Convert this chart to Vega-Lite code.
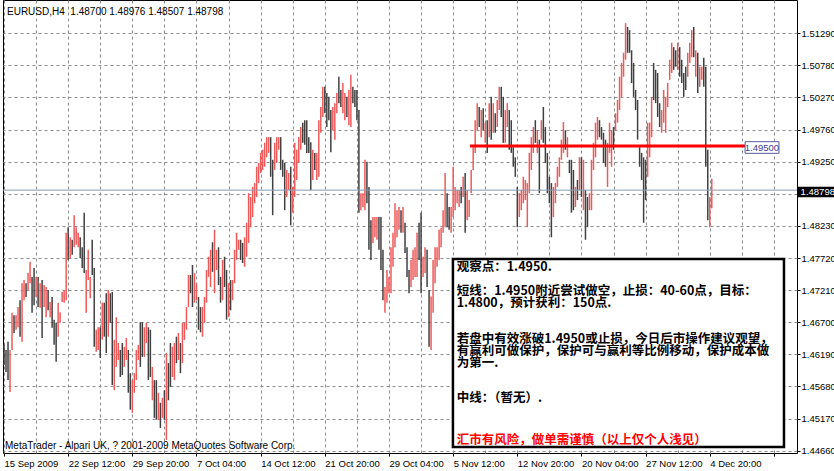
{
  "$schema": "https://vega.github.io/schema/vega-lite/v6.json",
  "width": 794,
  "height": 453,
  "autosize": "none",
  "padding": {"left": 3, "top": 0, "right": 37, "bottom": 18},
  "background": "white",
  "view": {"stroke": "black", "strokeWidth": 1, "fill": "white"},
  "config": {"font": "Liberation Sans"},
  "datasets": {
    "bars": [
      {"i":0,"h":1.4634,"l":1.4602,"u":0},{"i":1,"h":1.4626,"l":1.4591,"u":0},{"i":2,"h":1.4639,"l":1.4578,"u":0},{"i":3,"h":1.4626,"l":1.4559,"u":1},{"i":4,"h":1.4685,"l":1.4626,"u":1},{"i":5,"h":1.4681,"l":1.4653,"u":0},{"i":6,"h":1.4681,"l":1.4658,"u":1},{"i":7,"h":1.4694,"l":1.4662,"u":1},{"i":8,"h":1.4705,"l":1.4647,"u":0},{"i":9,"h":1.4732,"l":1.4639,"u":1},
      {"i":10,"h":1.4737,"l":1.4705,"u":1},{"i":11,"h":1.4732,"l":1.4710,"u":0},{"i":12,"h":1.4748,"l":1.4721,"u":1},{"i":13,"h":1.4766,"l":1.4732,"u":1},{"i":14,"h":1.4742,"l":1.4685,"u":0},{"i":15,"h":1.4756,"l":1.4697,"u":0},{"i":16,"h":1.4742,"l":1.4710,"u":1},{"i":17,"h":1.4742,"l":1.4694,"u":0},{"i":18,"h":1.4732,"l":1.4693,"u":1},{"i":19,"h":1.4737,"l":1.4645,"u":0},
      {"i":20,"h":1.4729,"l":1.4694,"u":1},{"i":21,"h":1.4726,"l":1.4678,"u":1},{"i":22,"h":1.4721,"l":1.4689,"u":0},{"i":23,"h":1.4702,"l":1.4678,"u":1},{"i":24,"h":1.4710,"l":1.4661,"u":0},{"i":25,"h":1.4674,"l":1.4634,"u":0},{"i":26,"h":1.4669,"l":1.4607,"u":0},{"i":27,"h":1.4701,"l":1.4647,"u":1},{"i":28,"h":1.4686,"l":1.4669,"u":1},{"i":29,"h":1.4718,"l":1.4702,"u":1},
      {"i":30,"h":1.4721,"l":1.4701,"u":1},{"i":31,"h":1.4812,"l":1.4705,"u":1},{"i":32,"h":1.4821,"l":1.4769,"u":0},{"i":33,"h":1.4805,"l":1.4772,"u":1},{"i":34,"h":1.4801,"l":1.4777,"u":0},{"i":35,"h":1.4840,"l":1.4789,"u":1},{"i":36,"h":1.4821,"l":1.4793,"u":1},{"i":37,"h":1.4812,"l":1.4789,"u":1},{"i":38,"h":1.4805,"l":1.4772,"u":0},{"i":39,"h":1.4789,"l":1.4756,"u":0},
      {"i":40,"h":1.4844,"l":1.4748,"u":0},{"i":41,"h":1.4753,"l":1.4685,"u":1},{"i":42,"h":1.4785,"l":1.4737,"u":1},{"i":43,"h":1.4742,"l":1.4708,"u":1},{"i":44,"h":1.4801,"l":1.4745,"u":0},{"i":45,"h":1.4756,"l":1.4631,"u":0},{"i":46,"h":1.4658,"l":1.4623,"u":1},{"i":47,"h":1.4662,"l":1.4626,"u":1},{"i":48,"h":1.4662,"l":1.4613,"u":0},{"i":49,"h":1.4701,"l":1.4642,"u":1},
      {"i":50,"h":1.4701,"l":1.4647,"u":0},{"i":51,"h":1.4716,"l":1.4621,"u":0},{"i":52,"h":1.4721,"l":1.4647,"u":1},{"i":53,"h":1.4716,"l":1.4669,"u":0},{"i":54,"h":1.4718,"l":1.4570,"u":0},{"i":55,"h":1.4642,"l":1.4562,"u":1},{"i":56,"h":1.4678,"l":1.4599,"u":1},{"i":57,"h":1.4637,"l":1.4610,"u":1},{"i":58,"h":1.4626,"l":1.4583,"u":0},{"i":59,"h":1.4637,"l":1.4586,"u":0},
      {"i":60,"h":1.4631,"l":1.4599,"u":1},{"i":61,"h":1.4645,"l":1.4610,"u":1},{"i":62,"h":1.4626,"l":1.4558,"u":0},{"i":63,"h":1.4589,"l":1.4531,"u":0},{"i":64,"h":1.4578,"l":1.4526,"u":1},{"i":65,"h":1.4589,"l":1.4558,"u":1},{"i":66,"h":1.4626,"l":1.4578,"u":1},{"i":67,"h":1.4634,"l":1.4610,"u":1},{"i":68,"h":1.4670,"l":1.4599,"u":0},{"i":69,"h":1.4670,"l":1.4615,"u":0},
      {"i":70,"h":1.4662,"l":1.4615,"u":1},{"i":71,"h":1.4669,"l":1.4637,"u":1},{"i":72,"h":1.4662,"l":1.4578,"u":0},{"i":73,"h":1.4658,"l":1.4583,"u":0},{"i":74,"h":1.4599,"l":1.4546,"u":1},{"i":75,"h":1.4578,"l":1.4518,"u":0},{"i":76,"h":1.4578,"l":1.4515,"u":0},{"i":77,"h":1.4558,"l":1.4515,"u":1},{"i":78,"h":1.4542,"l":1.4502,"u":0},{"i":79,"h":1.4550,"l":1.4518,"u":1},
      {"i":80,"h":1.4562,"l":1.4515,"u":0},{"i":81,"h":1.4621,"l":1.4483,"u":1},{"i":82,"h":1.4605,"l":1.4546,"u":0},{"i":83,"h":1.4637,"l":1.4567,"u":0},{"i":84,"h":1.4631,"l":1.4583,"u":1},{"i":85,"h":1.4637,"l":1.4578,"u":1},{"i":86,"h":1.4647,"l":1.4605,"u":0},{"i":87,"h":1.4653,"l":1.4610,"u":1},{"i":88,"h":1.4637,"l":1.4589,"u":0},{"i":89,"h":1.4669,"l":1.4605,"u":1},
      {"i":90,"h":1.4669,"l":1.4642,"u":1},{"i":91,"h":1.4694,"l":1.4658,"u":1},{"i":92,"h":1.4745,"l":1.4694,"u":1},{"i":93,"h":1.4745,"l":1.4716,"u":0},{"i":94,"h":1.4761,"l":1.4694,"u":0},{"i":95,"h":1.4748,"l":1.4701,"u":1},{"i":96,"h":1.4732,"l":1.4705,"u":1},
      {"i":97,"h":1.4710,"l":1.4658,"u":0},{"i":98,"h":1.4694,"l":1.4654,"u":0},{"i":99,"h":1.4694,"l":1.4647,"u":1},
      {"i":100,"h":1.4710,"l":1.4669,"u":1},{"i":101,"h":1.4753,"l":1.4701,"u":1},{"i":102,"h":1.4774,"l":1.4742,"u":1},{"i":103,"h":1.4785,"l":1.4726,"u":1},{"i":104,"h":1.4797,"l":1.4750,"u":0},{"i":105,"h":1.4817,"l":1.4716,"u":1},{"i":106,"h":1.4785,"l":1.4753,"u":1},{"i":107,"h":1.4789,"l":1.4729,"u":0},{"i":108,"h":1.4742,"l":1.4701,"u":0},{"i":109,"h":1.4769,"l":1.4705,"u":1},
      {"i":110,"h":1.4774,"l":1.4726,"u":0},{"i":111,"h":1.4753,"l":1.4674,"u":0},{"i":112,"h":1.4732,"l":1.4678,"u":1},{"i":113,"h":1.4737,"l":1.4689,"u":0},{"i":114,"h":1.4737,"l":1.4705,"u":1},{"i":115,"h":1.4785,"l":1.4732,"u":1},{"i":116,"h":1.4812,"l":1.4769,"u":1},{"i":117,"h":1.4801,"l":1.4785,"u":1},{"i":118,"h":1.4801,"l":1.4769,"u":0},{"i":119,"h":1.4796,"l":1.4764,"u":0},
      {"i":120,"h":1.4805,"l":1.4758,"u":1},{"i":121,"h":1.4828,"l":1.4774,"u":1},{"i":122,"h":1.4875,"l":1.4796,"u":1},{"i":123,"h":1.4869,"l":1.4821,"u":1},{"i":124,"h":1.4885,"l":1.4837,"u":1},{"i":125,"h":1.4891,"l":1.4859,"u":1},{"i":126,"h":1.4917,"l":1.4869,"u":1},{"i":127,"h":1.4923,"l":1.4891,"u":1},{"i":128,"h":1.4939,"l":1.4907,"u":1},{"i":129,"h":1.4944,"l":1.4912,"u":1},
      {"i":130,"h":1.4955,"l":1.4917,"u":1},{"i":131,"h":1.4964,"l":1.4932,"u":1},{"i":132,"h":1.4964,"l":1.4939,"u":1},{"i":133,"h":1.4964,"l":1.4901,"u":0},{"i":134,"h":1.4928,"l":1.4840,"u":0},{"i":135,"h":1.4955,"l":1.4912,"u":1},{"i":136,"h":1.4964,"l":1.4923,"u":1},{"i":137,"h":1.4964,"l":1.4944,"u":1},{"i":138,"h":1.4964,"l":1.4912,"u":0},{"i":139,"h":1.4928,"l":1.4901,"u":0},
      {"i":140,"h":1.4923,"l":1.4848,"u":0},{"i":141,"h":1.4912,"l":1.4869,"u":1},{"i":142,"h":1.4907,"l":1.4880,"u":1},{"i":143,"h":1.4917,"l":1.4824,"u":0},{"i":144,"h":1.4885,"l":1.4844,"u":1},{"i":145,"h":1.4955,"l":1.4869,"u":1},{"i":146,"h":1.4944,"l":1.4896,"u":1},{"i":147,"h":1.4964,"l":1.4923,"u":1},{"i":148,"h":1.4980,"l":1.4944,"u":1},{"i":149,"h":1.4987,"l":1.4955,"u":0},
      {"i":150,"h":1.4991,"l":1.4952,"u":0},{"i":151,"h":1.4991,"l":1.4939,"u":0},{"i":152,"h":1.4964,"l":1.4939,"u":0},{"i":153,"h":1.4956,"l":1.4880,"u":0},{"i":154,"h":1.4944,"l":1.4896,"u":1},{"i":155,"h":1.4939,"l":1.4912,"u":0},{"i":156,"h":1.4939,"l":1.4896,"u":1},{"i":157,"h":1.4991,"l":1.4901,"u":1},{"i":158,"h":1.5012,"l":1.4971,"u":1},{"i":159,"h":1.5044,"l":1.4996,"u":1},
      {"i":160,"h":1.5044,"l":1.5002,"u":0},{"i":161,"h":1.5034,"l":1.4980,"u":0},{"i":162,"h":1.5028,"l":1.4991,"u":0},{"i":163,"h":1.5007,"l":1.4940,"u":0},{"i":164,"h":1.5012,"l":1.4975,"u":1},{"i":165,"h":1.5018,"l":1.4960,"u":1},{"i":166,"h":1.5034,"l":1.5002,"u":1},{"i":167,"h":1.5060,"l":1.5018,"u":0},{"i":168,"h":1.5039,"l":1.5012,"u":0},{"i":169,"h":1.5050,"l":1.5002,"u":1},
      {"i":170,"h":1.5034,"l":1.4991,"u":1},{"i":171,"h":1.5028,"l":1.4996,"u":0},{"i":172,"h":1.5039,"l":1.4983,"u":1},{"i":173,"h":1.5063,"l":1.4980,"u":1},{"i":174,"h":1.5044,"l":1.5018,"u":0},{"i":175,"h":1.5039,"l":1.5012,"u":0},{"i":176,"h":1.5039,"l":1.4991,"u":0},{"i":177,"h":1.5007,"l":1.4844,"u":0},{"i":178,"h":1.4875,"l":1.4848,"u":1},{"i":179,"h":1.4875,"l":1.4853,"u":1},
      {"i":180,"h":1.4928,"l":1.4848,"u":1},{"i":181,"h":1.4925,"l":1.4859,"u":0},{"i":182,"h":1.4885,"l":1.4785,"u":0},{"i":183,"h":1.4832,"l":1.4769,"u":0},{"i":184,"h":1.4837,"l":1.4796,"u":1},{"i":185,"h":1.4837,"l":1.4805,"u":1},{"i":186,"h":1.4837,"l":1.4801,"u":1},{"i":187,"h":1.4837,"l":1.4785,"u":0},
      {"i":188,"h":1.4837,"l":1.4753,"u":0},{"i":189,"h":1.4785,"l":1.4705,"u":0},
      {"i":190,"h":1.4726,"l":1.4685,"u":1},{"i":191,"h":1.4753,"l":1.4701,"u":1},{"i":192,"h":1.4742,"l":1.4716,"u":1},{"i":193,"h":1.4789,"l":1.4716,"u":1},{"i":194,"h":1.4812,"l":1.4758,"u":1},{"i":195,"h":1.4859,"l":1.4789,"u":1},{"i":196,"h":1.4848,"l":1.4805,"u":1},{"i":197,"h":1.4853,"l":1.4817,"u":1},{"i":198,"h":1.4848,"l":1.4812,"u":0},{"i":199,"h":1.4853,"l":1.4812,"u":1},
      {"i":200,"h":1.4828,"l":1.4780,"u":0},{"i":201,"h":1.4789,"l":1.4742,"u":0},{"i":202,"h":1.4753,"l":1.4716,"u":0},{"i":203,"h":1.4769,"l":1.4726,"u":1},{"i":204,"h":1.4785,"l":1.4737,"u":1},{"i":205,"h":1.4789,"l":1.4742,"u":1},{"i":206,"h":1.4812,"l":1.4742,"u":1},{"i":207,"h":1.4828,"l":1.4769,"u":0},{"i":208,"h":1.4844,"l":1.4716,"u":0},{"i":209,"h":1.4774,"l":1.4742,"u":1},
      {"i":210,"h":1.4789,"l":1.4748,"u":1},{"i":211,"h":1.4785,"l":1.4726,"u":0},{"i":212,"h":1.4721,"l":1.4631,"u":0},{"i":213,"h":1.4711,"l":1.4626,"u":1},{"i":214,"h":1.4769,"l":1.4685,"u":1},{"i":215,"h":1.4789,"l":1.4732,"u":1},{"i":216,"h":1.4789,"l":1.4758,"u":1},{"i":217,"h":1.4817,"l":1.4769,"u":1},{"i":218,"h":1.4820,"l":1.4789,"u":1},{"i":219,"h":1.4848,"l":1.4812,"u":1},
      {"i":220,"h":1.4907,"l":1.4821,"u":1},{"i":221,"h":1.4875,"l":1.4821,"u":0},{"i":222,"h":1.4853,"l":1.4817,"u":0},{"i":223,"h":1.4853,"l":1.4812,"u":1},{"i":224,"h":1.4917,"l":1.4837,"u":1},{"i":225,"h":1.4885,"l":1.4848,"u":1},{"i":226,"h":1.4880,"l":1.4859,"u":1},{"i":227,"h":1.4880,"l":1.4853,"u":1},{"i":228,"h":1.4885,"l":1.4859,"u":0},{"i":229,"h":1.4901,"l":1.4869,"u":1},
      {"i":230,"h":1.4907,"l":1.4812,"u":0},{"i":231,"h":1.4880,"l":1.4832,"u":1},{"i":232,"h":1.4864,"l":1.4837,"u":1},{"i":233,"h":1.4912,"l":1.4875,"u":1},{"i":234,"h":1.4948,"l":1.4912,"u":1},{"i":235,"h":1.4991,"l":1.4939,"u":1},{"i":236,"h":1.5018,"l":1.4975,"u":1},{"i":237,"h":1.5012,"l":1.4980,"u":0},{"i":238,"h":1.5007,"l":1.4964,"u":1},{"i":239,"h":1.5010,"l":1.4975,"u":0},
      {"i":240,"h":1.4987,"l":1.4955,"u":1},{"i":241,"h":1.4991,"l":1.4939,"u":0},{"i":242,"h":1.5018,"l":1.4964,"u":1},{"i":243,"h":1.5028,"l":1.4960,"u":0},{"i":244,"h":1.5018,"l":1.4971,"u":1},{"i":245,"h":1.5002,"l":1.4971,"u":0},{"i":246,"h":1.5023,"l":1.4980,"u":1},{"i":247,"h":1.5044,"l":1.5007,"u":1},{"i":248,"h":1.5044,"l":1.4996,"u":0},{"i":249,"h":1.5028,"l":1.4955,"u":0},
      {"i":250,"h":1.5007,"l":1.4955,"u":1},{"i":251,"h":1.5018,"l":1.4980,"u":1},{"i":252,"h":1.5007,"l":1.4944,"u":0},{"i":253,"h":1.4991,"l":1.4939,"u":0},{"i":254,"h":1.4948,"l":1.4917,"u":0},{"i":255,"h":1.4932,"l":1.4901,"u":0},{"i":256,"h":1.4885,"l":1.4821,"u":0},{"i":257,"h":1.4875,"l":1.4837,"u":1},{"i":258,"h":1.4880,"l":1.4848,"u":1},{"i":259,"h":1.4901,"l":1.4859,"u":1},
      {"i":260,"h":1.4896,"l":1.4864,"u":1},{"i":261,"h":1.4891,"l":1.4821,"u":1},{"i":262,"h":1.4939,"l":1.4875,"u":1},{"i":263,"h":1.4964,"l":1.4912,"u":1},{"i":264,"h":1.4980,"l":1.4939,"u":1},{"i":265,"h":1.4991,"l":1.4955,"u":0},{"i":266,"h":1.4975,"l":1.4939,"u":1},{"i":267,"h":1.4960,"l":1.4875,"u":0},{"i":268,"h":1.4991,"l":1.4960,"u":1},{"i":269,"h":1.5012,"l":1.4955,"u":0},
      {"i":270,"h":1.4980,"l":1.4923,"u":0},{"i":271,"h":1.4939,"l":1.4875,"u":0},{"i":272,"h":1.4901,"l":1.4859,"u":0},{"i":273,"h":1.4891,"l":1.4805,"u":0},{"i":274,"h":1.4885,"l":1.4837,"u":1},{"i":275,"h":1.4891,"l":1.4859,"u":1},{"i":276,"h":1.4917,"l":1.4885,"u":1},{"i":277,"h":1.4932,"l":1.4901,"u":1},{"i":278,"h":1.4960,"l":1.4928,"u":1},{"i":279,"h":1.4988,"l":1.4939,"u":1},
      {"i":280,"h":1.4975,"l":1.4944,"u":0},{"i":281,"h":1.4964,"l":1.4932,"u":1},{"i":282,"h":1.4928,"l":1.4907,"u":0},
      {"i":283,"h":1.4928,"l":1.4844,"u":0},{"i":284,"h":1.4912,"l":1.4848,"u":0},{"i":285,"h":1.4885,"l":1.4853,"u":1},{"i":286,"h":1.4896,"l":1.4864,"u":0},{"i":287,"h":1.4932,"l":1.4880,"u":1},{"i":288,"h":1.4932,"l":1.4869,"u":0},{"i":289,"h":1.4928,"l":1.4848,"u":1},
      {"i":290,"h":1.4880,"l":1.4801,"u":0},{"i":291,"h":1.4869,"l":1.4821,"u":0},{"i":292,"h":1.4875,"l":1.4848,"u":1},{"i":293,"h":1.4928,"l":1.4848,"u":1},{"i":294,"h":1.4955,"l":1.4912,"u":1},{"i":295,"h":1.4987,"l":1.4932,"u":1},{"i":296,"h":1.4996,"l":1.4960,"u":1},{"i":297,"h":1.4991,"l":1.4964,"u":0},{"i":298,"h":1.4980,"l":1.4960,"u":0},{"i":299,"h":1.4971,"l":1.4923,"u":0},
      {"i":300,"h":1.4960,"l":1.4917,"u":0},{"i":301,"h":1.4955,"l":1.4885,"u":1},{"i":302,"h":1.4987,"l":1.4939,"u":1},{"i":303,"h":1.4975,"l":1.4917,"u":1},{"i":304,"h":1.4980,"l":1.4944,"u":0},{"i":305,"h":1.5002,"l":1.4975,"u":1},{"i":306,"h":1.5023,"l":1.4987,"u":1},{"i":307,"h":1.5060,"l":1.5007,"u":1},{"i":308,"h":1.5082,"l":1.5028,"u":1},{"i":309,"h":1.5098,"l":1.5060,"u":1},
      {"i":310,"h":1.5145,"l":1.5087,"u":1},{"i":311,"h":1.5139,"l":1.5098,"u":0},{"i":312,"h":1.5134,"l":1.5098,"u":0},{"i":313,"h":1.5102,"l":1.5050,"u":0},{"i":314,"h":1.5082,"l":1.5028,"u":0},{"i":315,"h":1.5039,"l":1.5007,"u":0},{"i":316,"h":1.5023,"l":1.4960,"u":0},{"i":317,"h":1.4948,"l":1.4917,"u":0},{"i":318,"h":1.4939,"l":1.4896,"u":0},{"i":319,"h":1.4932,"l":1.4828,"u":0},
      {"i":320,"h":1.4928,"l":1.4864,"u":0},{"i":321,"h":1.4987,"l":1.4901,"u":1},{"i":322,"h":1.4987,"l":1.4932,"u":1},{"i":323,"h":1.5028,"l":1.4964,"u":1},{"i":324,"h":1.5082,"l":1.5023,"u":0},{"i":325,"h":1.5071,"l":1.5018,"u":0},{"i":326,"h":1.5066,"l":1.4996,"u":0},{"i":327,"h":1.5018,"l":1.4980,"u":0},{"i":328,"h":1.5007,"l":1.4971,"u":1},{"i":329,"h":1.5039,"l":1.4987,"u":1},
      {"i":330,"h":1.5028,"l":1.4971,"u":1},{"i":331,"h":1.5050,"l":1.5012,"u":1},{"i":332,"h":1.5087,"l":1.5055,"u":1},{"i":333,"h":1.5114,"l":1.5066,"u":1},{"i":334,"h":1.5107,"l":1.5071,"u":0},{"i":335,"h":1.5102,"l":1.5076,"u":0},{"i":336,"h":1.5114,"l":1.5071,"u":1},{"i":337,"h":1.5107,"l":1.5060,"u":0},{"i":338,"h":1.5087,"l":1.5050,"u":0},{"i":339,"h":1.5066,"l":1.5028,"u":0},
      {"i":340,"h":1.5076,"l":1.5039,"u":0},{"i":341,"h":1.5098,"l":1.5060,"u":1},{"i":342,"h":1.5114,"l":1.5082,"u":1},{"i":343,"h":1.5134,"l":1.5091,"u":1},{"i":344,"h":1.5139,"l":1.5091,"u":0},{"i":345,"h":1.5102,"l":1.5060,"u":1},{"i":346,"h":1.5098,"l":1.5034,"u":0},{"i":347,"h":1.5076,"l":1.5044,"u":1},{"i":348,"h":1.5076,"l":1.5055,"u":1},{"i":349,"h":1.5090,"l":1.5044,"u":0},
      {"i":350,"h":1.5076,"l":1.4917,"u":0},{"i":351,"h":1.4944,"l":1.4832,"u":0},{"i":352,"h":1.4869,"l":1.4821,"u":1},{"i":353,"h":1.4898,"l":1.4851,"u":1}
    ]
  },
  "layer": [
    {
      "data": {"name": "bars"},
      "mark": {"type": "rule", "strokeWidth": 1.5},
      "encoding": {
        "x": {
          "field": "i", "type": "quantitative",
          "scale": {"domain": [-0.5, 395.5], "nice": false, "zero": false},
          "axis": {
            "orient": "bottom", "title": null, "domain": false, "tickCount": 100,
            "values": [0,16,32,48,64,80,96,112,128,144,160,176,192,208,224,240,256,272,288,304,320,336,352,368,384],
            "labelExpr": "datum.value % 32 === 0 ? ['15 Sep 2009','22 Sep 12:00','29 Sep 20:00','7 Oct 04:00','14 Oct 12:00','21 Oct 20:00','29 Oct 04:00','5 Nov 12:00','12 Nov 20:00','20 Nov 04:00','27 Nov 12:00','4 Dec 20:00','',''][datum.value / 32] : ''",
            "labelAlign": "left", "labelBaseline": "top", "labelPadding": 2, "labelFlush": false, "labelOverlap": false, "labelBound": false,
            "labelFont": "Liberation Sans", "labelFontSize": 9.5, "labelColor": "black",
            "tickSize": 3, "tickColor": {"condition": {"test": "datum.value % 32 === 0", "value": "black"}, "value": "transparent"},
            "grid": true, "gridColor": "#8c8c8c", "gridDash": [3, 3], "gridWidth": 1
          }
        },
        "y": {
          "field": "h", "type": "quantitative",
          "scale": {"domain": [1.44622, 1.51819], "nice": false, "zero": false},
          "axis": {
            "orient": "right", "title": null, "domain": false, "tickCount": 100,
            "values": [1.4466,1.4517,1.4568,1.4619,1.467,1.4721,1.4772,1.4823,1.4874,1.4925,1.4976,1.5027,1.5078,1.5129],
            "labelExpr": "abs(datum.value - 1.4874) < 0.00001 ? '' : format(datum.value, '.5f')",
            "labelOverlap": false, "labelBound": false, "labelFlush": false,
            "labelFont": "Liberation Sans", "labelFontSize": 9.5, "labelColor": "black", "labelPadding": 1,
            "tickSize": 3, "tickColor": "black",
            "grid": true, "gridColor": "#8c8c8c", "gridDash": [3, 3], "gridWidth": 1
          }
        },
        "y2": {"field": "l"},
        "color": {"field": "u", "type": "nominal", "scale": {"domain": [0, 1], "range": ["#404040", "#ee5a5a"]}, "legend": null}
      }
    },
    {
      "data": {"values": [{"p": 1.48798}]},
      "mark": {"type": "rule", "color": "#8a9bb0", "strokeWidth": 1},
      "encoding": {"y": {"field": "p", "type": "quantitative"}}
    },
    {
      "data": {"values": [{"a": 232.4, "b": 369.6, "p": 1.495}]},
      "mark": {"type": "rule", "color": "#ff0000", "strokeWidth": 3},
      "encoding": {
        "x": {"field": "a", "type": "quantitative"},
        "x2": {"field": "b"},
        "y": {"field": "p", "type": "quantitative"}
      }
    },
    {
      "data": {"values": [{"a": 369.6, "b": 386.5, "t": 1.49568, "d": 1.49383}]},
      "mark": {"type": "rect", "fill": "white", "stroke": "#5a5aa0", "strokeWidth": 1},
      "encoding": {
        "x": {"field": "a", "type": "quantitative"},
        "x2": {"field": "b"},
        "y": {"field": "t", "type": "quantitative"},
        "y2": {"field": "d"}
      }
    },
    {
      "data": {"values": [{"x": 378.0, "p": 1.49475, "s": "1.49500"}]},
      "mark": {"type": "text", "align": "center", "baseline": "middle", "font": "Liberation Sans", "fontSize": 9.5, "color": "#3c3c96"},
      "encoding": {
        "x": {"field": "x", "type": "quantitative"},
        "y": {"field": "p", "type": "quantitative"},
        "text": {"field": "s"}
      }
    },
    {
      "data": {"values": [{"a": 395.5, "b": 415, "t": 1.48853, "d": 1.48684}]},
      "mark": {"type": "rect", "fill": "black"},
      "encoding": {
        "x": {"field": "a", "type": "quantitative"},
        "x2": {"field": "b"},
        "y": {"field": "t", "type": "quantitative"},
        "y2": {"field": "d"}
      }
    },
    {
      "data": {"values": [{"x": 397.3, "p": 1.48775, "s": "1.48798"}]},
      "mark": {"type": "text", "align": "left", "baseline": "middle", "font": "Liberation Sans", "fontSize": 9.5, "color": "white"},
      "encoding": {
        "x": {"field": "x", "type": "quantitative"},
        "y": {"field": "p", "type": "quantitative"},
        "text": {"field": "s"}
      }
    },
    {
      "data": {"values": [{"x": 1.5, "p": 1.51628, "s": "EURUSD,H4\u00a0 1.48700 1.48976 1.48507 1.48798"}, {"x": 0.5, "p": 1.44738, "s": "MetaTrader - Alpari UK, ? 2001-2009 MetaQuotes Software Corp."}]},
      "mark": {"type": "text", "align": "left", "baseline": "middle", "font": "Liberation Sans", "fontSize": 10, "color": "black"},
      "encoding": {
        "x": {"field": "x", "type": "quantitative"},
        "y": {"field": "p", "type": "quantitative"},
        "text": {"field": "s"}
      }
    },
    {
      "data": {"values": [{"a": 223.9, "b": 389.0, "t": 1.47704, "d": 1.44717}]},
      "mark": {"type": "rect", "fill": "white", "stroke": "black", "strokeWidth": 2.5},
      "encoding": {
        "x": {"field": "a", "type": "quantitative"},
        "x2": {"field": "b"},
        "y": {"field": "t", "type": "quantitative"},
        "y2": {"field": "d"}
      }
    },
    {
      "data": {"values": [
        {"x": 225.8, "p": 1.47582, "s": "观察点：1.4950.", "c": "k"},
        {"x": 225.8, "p": 1.47200, "s": "短线：1.4950附近尝试做空，止损：40-60点，目标：", "c": "k"},
        {"x": 225.8, "p": 1.47010, "s": "1.4800，预计获利：150点.", "c": "k"},
        {"x": 225.8, "p": 1.46428, "s": "若盘中有效涨破1.4950或止损，今日后市操作建议观望，", "c": "k"},
        {"x": 225.8, "p": 1.46242, "s": "有赢利可做保护，保护可与赢利等比例移动，保护成本做", "c": "k"},
        {"x": 225.8, "p": 1.46056, "s": "为第一.", "c": "k"},
        {"x": 225.8, "p": 1.45491, "s": "中线：（暂无）.", "c": "k"},
        {"x": 225.8, "p": 1.44828, "s": "汇市有风险，做单需谨慎（以上仅个人浅见）", "c": "r"}
      ]},
      "mark": {"type": "text", "align": "left", "baseline": "middle", "font": "Noto Sans CJK SC", "fontSize": 12.5, "fontWeight": "bold"},
      "encoding": {
        "x": {"field": "x", "type": "quantitative"},
        "y": {"field": "p", "type": "quantitative"},
        "text": {"field": "s"},
        "color": {"field": "c", "type": "nominal", "scale": {"domain": ["k", "r"], "range": ["#000000", "#ff0000"]}, "legend": null}
      }
    }
  ],
  "resolve": {"scale": {"color": "independent"}}
}
